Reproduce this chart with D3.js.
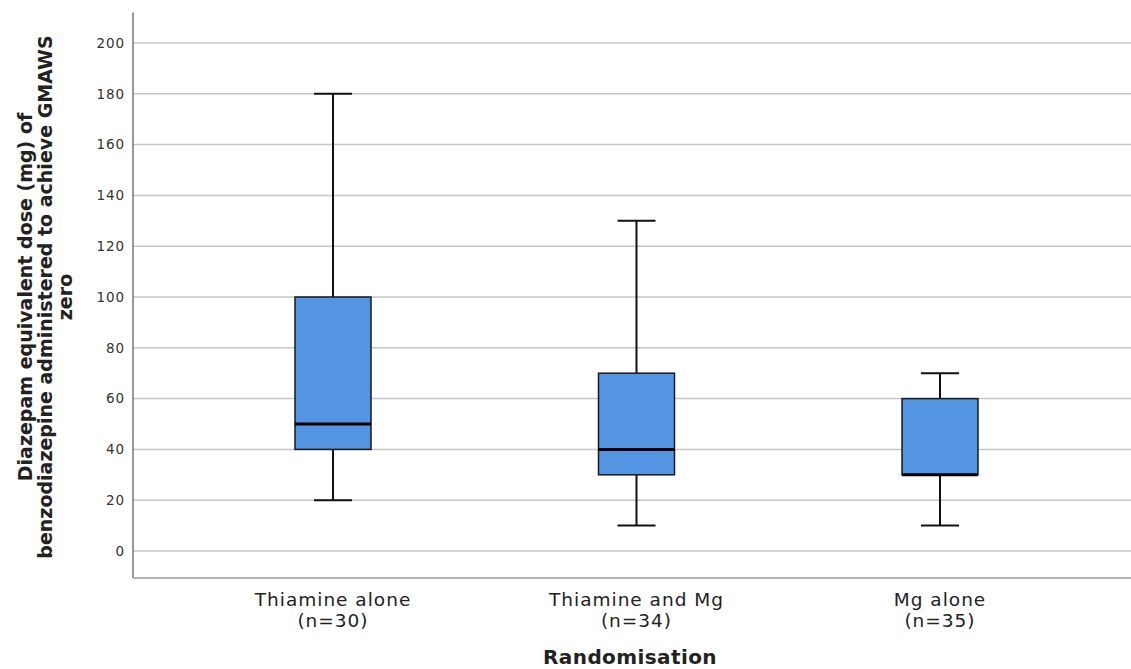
<!DOCTYPE html>
<html>
<head>
<meta charset="utf-8">
<script src="https://cdn.jsdelivr.net/npm/d3@7"></script>
<style>
  body { margin: 0; background: #fff; }
  svg { display: block; font-family: "DejaVu Sans", sans-serif; }
</style>
</head>
<body>
<div id="chart"></div>
<script>
// box plot data
var groups = ["Thiamine alone", "Thiamine and Mg", "Mg alone"];
var groupN = ["(n=30)", "(n=34)", "(n=35)"];
var mins    = [20, 10, 10];
var q1s     = [40, 30, 30];
var medians = [50, 40, 30];
var q3s     = [100, 70, 60];
var maxs    = [180, 130, 70];
var yTicks  = [0, 20, 40, 60, 80, 100, 120, 140, 160, 180, 200];

var width = 1131, height = 669;
var left = 133, right = 1131;

var svg = d3.select("#chart").append("svg")
	.attr("width", width)
	.attr("height", height);

var y = d3.scaleLinear()
	.domain([0, 200])
	.range([551, 43]);

var x = d3.scalePoint()
	.domain(groups)
	.range([333, 940]);

var boxW = 76, capW = 38;

// gridlines
svg.append("g")
	.selectAll("line")
	.data(yTicks)
	.enter()
	.append("line")
	.attr("x1", left)
	.attr("x2", right)
	.attr("y1", d => y(d))
	.attr("y2", d => y(d))
	.attr("stroke", "#c6c6c6")
	.attr("stroke-width", 1.5);

// y axis
var yAxis = g => g
	.attr("transform", `translate(${left},0)`)
	.call(d3.axisLeft(y).tickValues(yTicks).tickSize(0).tickPadding(8))
	.call(g => g.select(".domain").remove());

var ya = svg.append("g").call(yAxis);
ya.selectAll("text")
	.attr("font-size", 13.5)
	.attr("letter-spacing", 0.9)
	.attr("fill", "#333")
	.attr("font-family", "DejaVu Sans, sans-serif");

// frame lines
svg.append("line")
	.attr("x1", left).attr("x2", left)
	.attr("y1", y(212)).attr("y2", y(-10.6))
	.attr("stroke", "#777").attr("stroke-width", 1.5);
svg.append("line")
	.attr("x1", left).attr("x2", right)
	.attr("y1", y(-10.6)).attr("y2", y(-10.6))
	.attr("stroke", "#999").attr("stroke-width", 1.5);

var data = groups.map((g, i) => ({
	name: g, n: groupN[i],
	min: mins[i], q1: q1s[i], med: medians[i], q3: q3s[i], max: maxs[i]
}));

var box = svg.append("g")
	.selectAll("g")
	.data(data)
	.enter()
	.append("g")
	.attr("transform", d => `translate(${x(d.name)},0)`);

// whiskers
box.append("line")
	.attr("x1", 0).attr("x2", 0)
	.attr("y1", d => y(d.max)).attr("y2", d => y(d.q3))
	.attr("stroke", "#111").attr("stroke-width", 2);
box.append("line")
	.attr("x1", 0).attr("x2", 0)
	.attr("y1", d => y(d.q1)).attr("y2", d => y(d.min))
	.attr("stroke", "#111").attr("stroke-width", 2);
box.append("line")
	.attr("x1", -capW / 2).attr("x2", capW / 2)
	.attr("y1", d => y(d.max)).attr("y2", d => y(d.max))
	.attr("stroke", "#111").attr("stroke-width", 2);
box.append("line")
	.attr("x1", -capW / 2).attr("x2", capW / 2)
	.attr("y1", d => y(d.min)).attr("y2", d => y(d.min))
	.attr("stroke", "#111").attr("stroke-width", 2);

// boxes
box.append("rect")
	.attr("x", -boxW / 2)
	.attr("width", boxW)
	.attr("y", d => y(d.q3))
	.attr("height", d => y(d.q1) - y(d.q3))
	.attr("fill", "#5394e3")
	.attr("stroke", "#1a1a1a")
	.attr("stroke-width", 1.5);

// medians
box.append("line")
	.attr("x1", -boxW / 2).attr("x2", boxW / 2)
	.attr("y1", d => y(d.med)).attr("y2", d => y(d.med))
	.attr("stroke", "#000").attr("stroke-width", 3);

// x labels
var xl = svg.append("g")
	.selectAll("text")
	.data(data)
	.enter()
	.append("text")
	.attr("x", d => x(d.name))
	.attr("y", 606)
	.attr("text-anchor", "middle")
	.attr("font-size", 18.5)
	.attr("letter-spacing", 1)
	.attr("fill", "#222");
xl.append("tspan")
	.attr("x", d => x(d.name))
	.text(d => d.name);
xl.append("tspan")
	.attr("x", d => x(d.name))
	.attr("dy", 21)
	.text(d => d.n);

// axis titles
svg.append("text")
	.attr("x", 630)
	.attr("y", 664)
	.attr("text-anchor", "middle")
	.attr("font-size", 20)
	.attr("letter-spacing", 0.4)
	.attr("font-weight", "bold")
	.attr("fill", "#222")
	.text("Randomisation");

var yTitle = ["Diazepam equivalent dose (mg) of",
	"benzodiazepine administered to achieve GMAWS",
	"zero"];
svg.append("text")
	.attr("transform", "translate(32,297) rotate(-90)")
	.attr("text-anchor", "middle")
	.attr("font-size", 19)
	.attr("font-weight", "bold")
	.attr("fill", "#222")
	.selectAll("tspan")
	.data(yTitle)
	.enter()
	.append("tspan")
	.attr("x", 0)
	.attr("dy", (d, i) => i === 0 ? 0 : 20)
	.text(d => d);
</script>
</body>
</html>
